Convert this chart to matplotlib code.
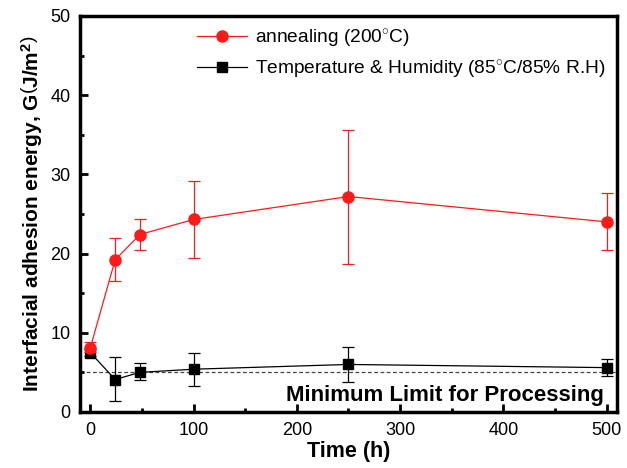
import matplotlib
matplotlib.use("Agg")
import matplotlib.pyplot as plt
from matplotlib.ticker import MultipleLocator
from matplotlib.lines import Line2D

plt.rcParams['font.family'] = ['Liberation Sans', 'DejaVu Sans']
plt.rcParams['mathtext.fontset'] = 'custom'
plt.rcParams['mathtext.rm'] = 'Liberation Sans'
plt.rcParams['mathtext.bf'] = 'Liberation Sans:bold'
plt.rcParams['mathtext.it'] = 'Liberation Sans:italic'

time_h = [0, 24, 48, 100, 250, 500]
anneal = [8.1, 19.2, 22.4, 24.3, 27.2, 24.0]
anneal_lo = [7.6, 16.5, 20.5, 19.5, 18.7, 20.4]
anneal_hi = [8.8, 22.0, 24.3, 29.2, 35.6, 27.6]
th = [7.5, 4.1, 5.0, 5.4, 6.0, 5.6]
th_lo = [7.1, 1.35, 4.0, 3.3, 3.8, 4.6]
th_hi = [7.9, 6.9, 6.2, 7.5, 8.2, 6.7]
limit = 5.0
labels = ['annealing (200$^{\\circ}$C)', 'Temperature & Humidity (85$^{\\circ}$C/85% R.H)']

fig = plt.figure(figsize=(6.27, 4.68), dpi=100)
ax = fig.add_axes([0.1276, 0.1197, 0.8564, 0.8463])

ax.axhline(limit, color='#444444', ls='--', lw=0.9, dashes=(3, 2), zorder=1)

red = '#ff1a1a'
ax.errorbar(time_h, th,
            yerr=[[v - l for v, l in zip(th, th_lo)], [h - v for v, h in zip(th, th_hi)]],
            color='black', marker='s', ms=7, lw=0.9, elinewidth=0.9, capsize=4, capthick=0.9,
            zorder=3)
ax.errorbar(time_h, anneal,
            yerr=[[v - l for v, l in zip(anneal, anneal_lo)], [h - v for v, h in zip(anneal, anneal_hi)]],
            color=red, marker='o', ms=8, lw=0.9, elinewidth=0.9, capsize=4, capthick=0.9,
            zorder=4)

ax.set_xlim(-10, 510)
ax.set_ylim(0, 50)
ax.xaxis.set_major_locator(MultipleLocator(100))
ax.xaxis.set_minor_locator(MultipleLocator(50))
ax.yaxis.set_major_locator(MultipleLocator(10))
ax.yaxis.set_minor_locator(MultipleLocator(5))
ax.tick_params(which='major', direction='in', length=6, width=2, labelsize=13, pad=7)
ax.tick_params(which='minor', direction='in', length=3, width=2)
for s in ax.spines.values():
    s.set_linewidth(2.5)

ax.set_xlabel('Time (h)', fontsize=15.5, fontweight='bold', labelpad=2)
ax.set_ylabel(r'Interfacial adhesion energy, G$\mathbf{\left(J/m^2\right)}$', fontsize=15,
              fontweight='bold', labelpad=4)

ax.text(0.975, 0.015, 'Minimum Limit for Processing', transform=ax.transAxes,
        ha='right', va='bottom', fontsize=16, fontweight='bold')

handles = [Line2D([], [], color=red, marker='o', ms=8, lw=0.9),
           Line2D([], [], color='black', marker='s', ms=7, lw=0.9)]
ax.legend(handles, labels, loc='upper right', frameon=False, fontsize=13.8,
          handlelength=2.6, handletextpad=0.4, borderaxespad=0.2, labelspacing=0.45)

fig.savefig('out.png', dpi=100)
